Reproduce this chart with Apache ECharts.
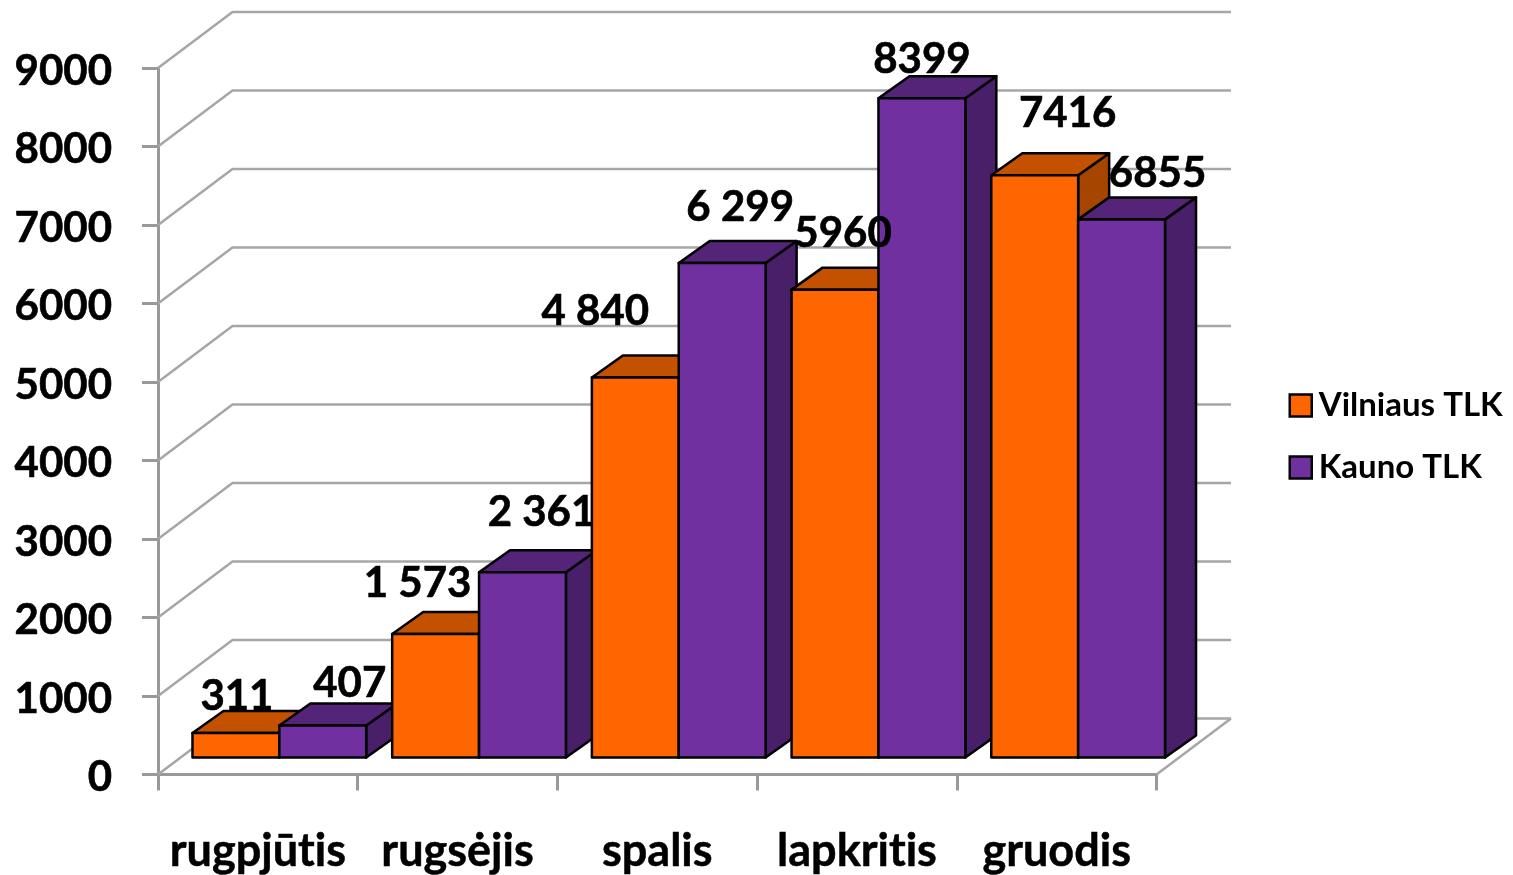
<!DOCTYPE html>
<html><head><meta charset="utf-8">
<style>html,body{margin:0;padding:0;background:#fff}#c{width:1513px;height:875px}</style>
<script src="https://cdn.jsdelivr.net/npm/echarts@6/dist/echarts.min.js"></script>
</head><body><div id="c"></div>
<script>
const categories = ['rugpjūtis','rugsėjis','spalis','lapkritis','gruodis'];
const vilnius = [311,1573,4840,5960,7416];
const kaunas = [407,2361,6299,8399,6855];
const vilniusLabels = ['311','1 573','4 840','5960','7416'];
const kaunasLabels = ['407','2 361','6 299','8399','6855'];
const yTicks = [0,1000,2000,3000,4000,5000,6000,7000,8000,9000];

// label nudges relative to the top of each bar's front face
const vilniusNudge = [[1,-37],[-18,-51],[-40,-66],[8,-56],[33,-62]];
const kaunasNudge = [[27,-42],[19,-60],[18,-56],[0,-39],[36,-46]];

// the reference font has no "ti" ligature: turn ligatures off when text is painted
const nativeFill = CanvasRenderingContext2D.prototype.fillText;
const nativeStroke = CanvasRenderingContext2D.prototype.strokeText;
CanvasRenderingContext2D.prototype.fillText = function(){ this.textRendering = 'optimizeSpeed'; return nativeFill.apply(this, arguments); };
CanvasRenderingContext2D.prototype.strokeText = function(){ this.textRendering = 'optimizeSpeed'; return nativeStroke.apply(this, arguments); };

const FONT = 'bold 42px Lato';
const WALL = [74.5,-56], DEPTH = [31,-22], BASE_DY = -17, BAR_SHIFT = 21.5, BAR_FRAC = 0.435;
const STROKE = '#000', GRID = '#a6a6a6';

function gridItem(params, api){
  const cs = params.coordSys, v = api.value(0);
  const y = api.coord([0, v])[1], x0 = cs.x, x1 = cs.x + cs.width;
  const children = [{type:'polyline', shape:{points:[[x0,y],[x0+WALL[0],y+WALL[1]],[x1+WALL[0],y+WALL[1]]]},
    style:{stroke:GRID, lineWidth:2.5, fill:null}}];
  if (v === 0) children.push({type:'line', shape:{x1:x1,y1:y,x2:x1+WALL[0],y2:y+WALL[1]}, style:{stroke:GRID,lineWidth:2.5}});
  return {type:'group', children};
}
function barRenderer(side, fills, labels, nudges){
  return function(params, api){
    const i = api.value(0), v = api.value(1);
    const top = api.coord([i, v]), base = api.coord([i, 0]);
    const w = api.size([1,0])[0] * BAR_FRAC;
    const cx = top[0] + BAR_SHIFT;
    const l = side === 0 ? cx - w : cx, r = l + w;
    const yt = top[1] + BASE_DY, yb = base[1] + BASE_DY;
    const dx = DEPTH[0], dy = DEPTH[1];
    const z = 10 + i*2 + side;
    const st = f => ({fill:f, stroke:STROKE, lineWidth:2.5, lineJoin:'round'});
    return {type:'group', children:[
      {type:'polygon', z2:z, shape:{points:[[r,yt],[r+dx,yt+dy],[r+dx,yb+dy],[r,yb]]}, style:st(fills[2])},
      {type:'polygon', z2:z, shape:{points:[[l,yt],[l+dx,yt+dy],[r+dx,yt+dy],[r,yt]]}, style:st(fills[1])},
      {type:'polygon', z2:z, shape:{points:[[l,yt],[r,yt],[r,yb],[l,yb]]}, style:st(fills[0])},
      {type:'text', z2:1000, style:{text:labels[i], x:(l+r)/2+nudges[i][0], y:yt+nudges[i][1], fill:'#000',
        stroke:'#000', lineWidth:0.6, font:FONT, align:'center', verticalAlign:'middle'}}
    ]};
  };
}
const chart = echarts.init(document.getElementById('c'), null, {renderer:'canvas'});
chart.setOption({
  animation:false, backgroundColor:'#fff',
  grid:{left:158, top:68, width:998.5, height:706.5, containLabel:false},
  legend:{orient:'vertical', left:1288.5, top:389, padding:0, itemWidth:22, itemHeight:22, itemGap:29, selectedMode:false, icon:'rect',
    textStyle:{fontFamily:'Lato', fontWeight:'bold', fontSize:33, color:'#000', padding:[0,0,0,2]},
    data:[{name:'Vilniaus TLK', itemStyle:{color:'#FF6600',borderColor:'#000',borderWidth:2.5}},
          {name:'Kauno TLK', itemStyle:{color:'#7030A0',borderColor:'#000',borderWidth:2.5}}]},
  xAxis:{type:'category', data:categories, boundaryGap:true,
    axisLine:{lineStyle:{color:'#999',width:3}}, axisTick:{show:true,length:16,alignWithLabel:false,lineStyle:{color:'#999',width:3}},
    axisLabel:{margin:54, fontFamily:'Lato', fontWeight:'bold', fontSize:45, color:'#000', interval:0, hideOverlap:false,
      textBorderColor:'#000', textBorderWidth:0.5},
    splitLine:{show:false}},
  yAxis:{type:'value', min:0, max:9000, interval:1000,
    axisLine:{show:true,lineStyle:{color:'#999',width:3}}, axisTick:{show:true,length:16,lineStyle:{color:'#999',width:3}},
    axisLabel:{margin:46, fontFamily:'Lato', fontWeight:'bold', fontSize:42, color:'#000', verticalAlign:'top', lineHeight:6,
      formatter:v=>String(v), textBorderColor:'#000', textBorderWidth:0.6},
    splitLine:{show:false}},
  series:[
    {type:'custom', name:'grid', silent:true, clip:false, z:1, data:yTicks.map(v=>[v]), encode:{y:0}, renderItem:gridItem},
    {type:'custom', name:'Vilniaus TLK', clip:false, z:2, silent:true, encode:{x:0,y:1},
      itemStyle:{color:'#FF6600'}, data:vilnius.map((v,i)=>[i,v]),
      renderItem:barRenderer(0,['#FF6600','#C35100','#A64500'],vilniusLabels,vilniusNudge)},
    {type:'custom', name:'Kauno TLK', clip:false, z:2, silent:true, encode:{x:0,y:1},
      itemStyle:{color:'#7030A0'}, data:kaunas.map((v,i)=>[i,v]),
      renderItem:barRenderer(1,['#7030A0','#542478','#4A1F69'],kaunasLabels,kaunasNudge)}
  ]
});
</script></body></html>
